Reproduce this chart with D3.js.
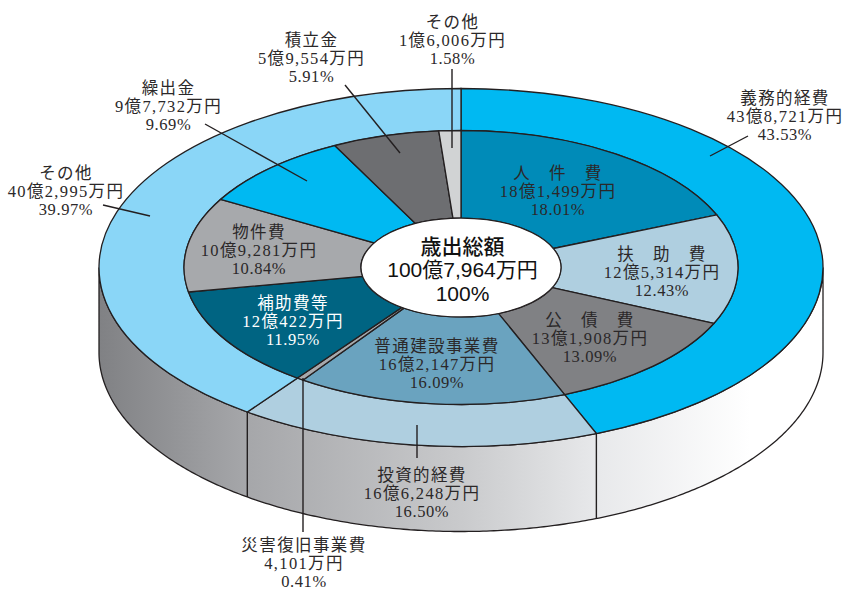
<!DOCTYPE html>
<html>
<head>
<meta charset="utf-8">
<script src="https://cdn.jsdelivr.net/npm/d3@7/dist/d3.min.js"></script>
<style>
html, body { margin: 0; padding: 0; background: #fff; }
svg { display: block; }
</style>
</head>
<body>
<svg id="chart" width="845" height="591"></svg>
<script>
// outer ring, shares as drawn in the picture (percent)
const outerNames = ["義務的経費", "投資的経費", "その他"];
const outerAmounts = ["43億8,721万円", "16億6,248万円", "40億2,995万円"];
const outerPercents = ["43.53%", "16.50%", "39.97%"];
const outerDrawn = [43.9, 16.15, 39.95];
const outerColors = ["#00b9f2", "#afcfe0", "#8ad6f7"];

// inner ring
const innerNames = ["人　件　費", "扶　助　費", "公　債　費", "普通建設事業費", "災害復旧事業費", "補助費等", "物件費", "繰出金", "積立金", "その他"];
const innerAmounts = ["18億1,499万円", "12億5,314万円", "13億1,908万円", "16億2,147万円", "4,101万円", "12億422万円", "10億9,281万円", "9億7,732万円", "5億9,554万円", "1億6,006万円"];
const innerPercents = ["18.01%", "12.43%", "13.09%", "16.09%", "0.41%", "11.95%", "10.84%", "9.69%", "5.91%", "1.58%"];
const innerDrawn = [18.72, 12.98, 12.2, 15.75, 0.41, 12.08, 11.14, 9.19, 6.25, 1.28];
const innerColors = ["#008bb8", "#afcfe0", "#808184", "#6aa3bf", "#a7a9ac", "#006482", "#a7a9ac", "#00b9f2", "#6d6e71", "#d1d3d4"];

const totalLines = ["歳出総額", "100億7,964万円", "100%"];

const CX = 461, CY = 267.5;
const R_OUT = 362, R_MID = 277, R_HOLE = 100;
const TILT = 0.4945, DEPTH = 85;
const LINE_COR = "#231f20";

const svg = d3.select("#chart");
const defs = svg.append("defs");
const grad = defs.append("linearGradient")
    .attr("id", "wall")
    .attr("gradientUnits", "userSpaceOnUse")
    .attr("x1", CX - R_OUT).attr("x2", CX + R_OUT)
    .attr("y1", 0).attr("y2", 0);
[[0, "#808184"], [0.2, "#a5a6a9"], [0.5, "#c9cacc"], [0.69, "#e8e9eb"], [0.9, "#ffffff"], [1, "#ffffff"]]
    .forEach(s => grad.append("stop").attr("offset", s[0]).attr("stop-color", s[1]));

const pie = d3.pie().sort(null).value(d => d);
const outerArcs = pie(outerDrawn);
const innerArcs = pie(innerDrawn);

function rim(a, dy) {
    return [CX + R_OUT * Math.sin(a), CY - R_OUT * TILT * Math.cos(a) + dy];
}

// side wall, front half only
const line = d3.line();
let wallFrom = Math.PI / 2, wallTo = Math.PI * 3 / 2;
let angs = d3.range(wallFrom, wallTo, 0.01).concat([wallTo]);
let wallPts = angs.map(a => rim(a, 0)).concat(angs.slice().reverse().map(a => rim(a, DEPTH)));
svg.append("path")
    .attr("d", line(wallPts) + "Z")
    .attr("fill", "url(#wall)")
    .attr("stroke", LINE_COR)
    .attr("stroke-width", 1.3);

// seams on the wall
outerArcs.slice(0, 2).forEach(d => {
    let p1 = rim(d.endAngle, 0), p2 = rim(d.endAngle, DEPTH);
    svg.append("line")
        .attr("x1", p1[0]).attr("y1", p1[1])
        .attr("x2", p2[0]).attr("y2", p2[1])
        .attr("stroke", LINE_COR)
        .attr("stroke-width", 1.4);
});

const g = svg.append("g")
    .attr("transform", `translate(${CX},${CY}) scale(1,${TILT})`);

function draw_ring(arcs, colors, r0, r1) {
    const arc = d3.arc().innerRadius(r0).outerRadius(r1);
    g.append("g").selectAll("path")
        .data(arcs)
        .join("path")
        .attr("d", arc)
        .attr("fill", (d, i) => colors[i])
        .attr("stroke", LINE_COR)
        .attr("stroke-width", 1.3)
        .attr("vector-effect", "non-scaling-stroke");
}
draw_ring(outerArcs, outerColors, R_MID, R_OUT);
draw_ring(innerArcs, innerColors, R_HOLE, R_MID);

g.append("ellipse")
    .attr("rx", R_HOLE).attr("ry", R_HOLE)
    .attr("fill", "#fff")
    .attr("stroke", LINE_COR)
    .attr("stroke-width", 1.2)
    .attr("vector-effect", "non-scaling-stroke");

// leader lines: x1, y1, x2, y2
const leaders = [
    [345, 85, 400, 153],
    [205, 124, 307, 181],
    [103, 205, 150, 216],
    [452, 69, 452, 148],
    [748, 136, 710, 156],
    [417, 425, 417, 458],
    [303, 378, 303, 532]
];
svg.append("g").selectAll("line")
    .data(leaders)
    .join("line")
    .attr("x1", d => d[0]).attr("y1", d => d[1])
    .attr("x2", d => d[2]).attr("y2", d => d[3])
    .attr("stroke", LINE_COR)
    .attr("stroke-width", 1.4);

const LINE_SPACING = [1.4, 1.35, 0.6];

function draw_label(x, y, lines, color) {
    const t = svg.append("text")
        .attr("text-anchor", "middle")
        .attr("font-family", "'Liberation Serif','Noto Sans CJK JP',serif")
        .attr("font-size", 16.5)
        .attr("fill", color || "#2b2829");
    lines.forEach((s, i) => {
        t.append("tspan")
            .attr("x", x).attr("y", y + i * 17.9)
            .attr("letter-spacing", LINE_SPACING[i])
            .text(s);
    });
}

// label anchors, baseline of the first line
const innerLabelPos = [[558, 179], [662, 260], [590, 326], [437, 352], [304, 551], [293, 309], [259, 238], [168.5, 94], [311.5, 46], [452.5, 28]];
const outerLabelPos = [[785, 104], [422, 481], [66, 179]];

innerArcs.forEach((d, i) => {
    draw_label(innerLabelPos[i][0], innerLabelPos[i][1],
        [innerNames[i], innerAmounts[i], innerPercents[i]], i === 5 ? "#ffffff" : null);
});
outerArcs.forEach((d, i) => {
    draw_label(outerLabelPos[i][0], outerLabelPos[i][1],
        [outerNames[i], outerAmounts[i], outerPercents[i]]);
});

// center text
const ct = svg.append("text")
    .attr("text-anchor", "middle")
    .attr("font-family", "'Liberation Sans','Noto Sans CJK JP',sans-serif")
    .attr("font-size", 21)
    .attr("fill", "#111");
totalLines.forEach((s, i) => {
    ct.append("tspan")
        .attr("x", 462.5).attr("y", 253.5 + i * 23.7)
        .attr("font-weight", i === 0 ? 500 : "normal")
        .text(s);
});
</script>
</body>
</html>
